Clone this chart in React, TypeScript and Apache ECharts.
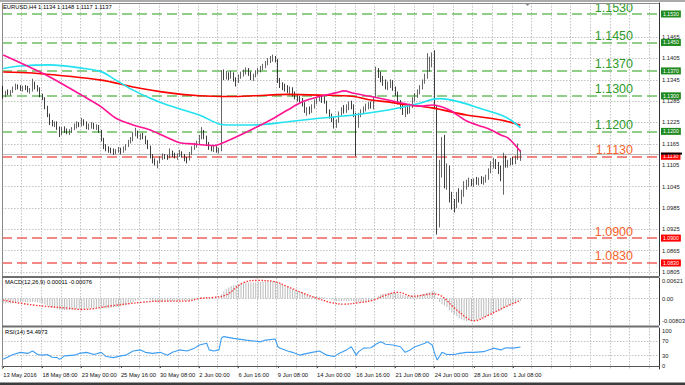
import { useEffect, useRef } from 'react';
import * as echarts from 'echarts';

const FONT = '"Liberation Sans", Arial, Helvetica, sans-serif';

// ---- time axis (H4 bars, one label every 16 bars) ----
const DATE_LABELS = ['13 May 2016', '18 May 08:00', '23 May 00:00', '25 May 16:00', '30 May 08:00', '2 Jun 00:00', '6 Jun 16:00', '9 Jun 08:00', '14 Jun 00:00', '16 Jun 16:00', '21 Jun 08:00', '24 Jun 00:00', '28 Jun 16:00', '1 Jul 08:00'];
const SLOT_COUNT = 268; // bars + empty right shift
const LABEL_EVERY = 16;
const GRID_EVERY = 8;

// ---- prices in pips above 1.0000 (1322 = 1.1322) ----
const FIRST_OPEN = 1322;
const CLOSE = [
  1300, 1310,
  1306, 1312, 1322, 1328, 1324, 1318,
  1324, 1320, 1314, 1318, 1336, 1322,
  1318, 1302, 1294, 1268, 1246, 1226,
  1220, 1224, 1210, 1196, 1206, 1202,
  1198, 1202, 1208, 1216, 1222, 1218,
  1228, 1222, 1212, 1216, 1220, 1212,
  1214, 1200, 1178, 1156, 1150, 1146,
  1144, 1140, 1146, 1150, 1142, 1152,
  1160, 1170, 1178, 1192, 1196, 1186,
  1188, 1184, 1170, 1156, 1130, 1116,
  1110, 1114, 1124, 1130, 1128, 1126,
  1140, 1134, 1130, 1134, 1142, 1132,
  1122, 1120, 1138, 1152, 1162, 1168,
  1184, 1196, 1184, 1166, 1154, 1150,
  1150, 1146, 1148, 1358, 1352, 1362,
  1356, 1364, 1346, 1340, 1354, 1360,
  1368, 1374, 1362, 1350, 1356, 1366,
  1372, 1380, 1384, 1392, 1398, 1404,
  1408, 1400, 1342, 1330, 1326, 1318,
  1314, 1320, 1304, 1296, 1292, 1288,
  1276, 1258, 1262, 1256, 1270, 1284,
  1290, 1294, 1286, 1282, 1256, 1242,
  1232, 1216, 1228, 1250, 1262, 1258,
  1266, 1278, 1270, 1246, 1216, 1246,
  1256, 1264, 1270, 1276, 1270, 1296,
  1366, 1358, 1344, 1334, 1326, 1332,
  1338, 1320, 1308, 1282, 1268, 1256,
  1262, 1254, 1272, 1290, 1300, 1312,
  1324, 1340, 1354, 1380, 1394, 1400,
  1268, 940, 1080, 1168, 1050, 1100,
  1010, 996, 988, 1024, 1010, 1028,
  1044, 1056, 1060, 1052, 1062, 1058,
  1064, 1058, 1066, 1070, 1088, 1106,
  1110, 1100, 1088, 1072, 1118, 1104,
  1112, 1118, 1112, 1126, 1134, 1137,
];
const HIGH = [
  1328, 1314,
  1318, 1316, 1326, 1334, 1332, 1330,
  1328, 1330, 1328, 1322, 1348, 1340,
  1330, 1324, 1306, 1296, 1272, 1250,
  1232, 1228, 1228, 1214, 1212, 1214,
  1208, 1206, 1212, 1222, 1228, 1226,
  1238, 1234, 1228, 1222, 1226, 1224,
  1220, 1218, 1204, 1182, 1164, 1158,
  1154, 1152, 1150, 1156, 1154, 1158,
  1164, 1176, 1184, 1198, 1210, 1202,
  1194, 1196, 1188, 1176, 1160, 1136,
  1124, 1118, 1130, 1138, 1136, 1134,
  1152, 1146, 1140, 1138, 1148, 1144,
  1136, 1128, 1142, 1158, 1168, 1174,
  1190, 1212, 1204, 1188, 1170, 1160,
  1160, 1158, 1154, 1372, 1374, 1370,
  1366, 1370, 1366, 1352, 1360, 1368,
  1374, 1380, 1378, 1368, 1362, 1372,
  1378, 1384, 1390, 1398, 1406, 1412,
  1416, 1412, 1404, 1350, 1338, 1334,
  1330, 1326, 1324, 1312, 1304, 1300,
  1294, 1282, 1268, 1270, 1276, 1290,
  1296, 1302, 1300, 1298, 1286, 1262,
  1250, 1240, 1234, 1256, 1268, 1274,
  1276, 1284, 1286, 1276, 1252, 1252,
  1262, 1270, 1278, 1282, 1284, 1298,
  1382, 1378, 1368, 1356, 1346, 1340,
  1346, 1344, 1326, 1312, 1288, 1278,
  1270, 1276, 1278, 1296, 1308, 1318,
  1330, 1346, 1362, 1420, 1410, 1422,
  1428, 1274, 1120, 1184, 1190, 1110,
  1104, 1030, 1010, 1030, 1040, 1036,
  1060, 1064, 1070, 1066, 1068, 1072,
  1070, 1074, 1072, 1078, 1096, 1116,
  1126, 1122, 1114, 1104, 1140, 1132,
  1120, 1126, 1128, 1132, 1166, 1148,
];
const LOW = [
  1292, 1296,
  1302, 1300, 1308, 1316, 1318, 1314,
  1312, 1316, 1310, 1306, 1312, 1318,
  1312, 1296, 1288, 1262, 1240, 1218,
  1214, 1212, 1204, 1184, 1190, 1196,
  1192, 1190, 1196, 1204, 1208, 1212,
  1214, 1216, 1206, 1204, 1208, 1206,
  1204, 1196, 1172, 1150, 1144, 1140,
  1138, 1134, 1136, 1140, 1136, 1140,
  1146, 1156, 1166, 1172, 1186, 1180,
  1176, 1178, 1164, 1150, 1124, 1110,
  1104, 1096, 1110, 1120, 1122, 1120,
  1124, 1128, 1124, 1120, 1128, 1126,
  1116, 1110, 1118, 1134, 1148, 1154,
  1162, 1178, 1178, 1160, 1148, 1144,
  1142, 1140, 1138, 1144, 1344, 1346,
  1344, 1348, 1340, 1326, 1336, 1348,
  1354, 1360, 1356, 1344, 1342, 1352,
  1360, 1366, 1372, 1378, 1386, 1392,
  1396, 1394, 1336, 1322, 1316, 1312,
  1308, 1302, 1298, 1290, 1284, 1282,
  1270, 1252, 1244, 1248, 1252, 1264,
  1276, 1284, 1280, 1278, 1250, 1236,
  1226, 1208, 1210, 1224, 1244, 1250,
  1252, 1260, 1262, 1240, 1130, 1210,
  1240, 1250, 1256, 1262, 1264, 1262,
  1294, 1350, 1338, 1328, 1318, 1316,
  1322, 1314, 1300, 1276, 1262, 1246,
  1240, 1248, 1250, 1266, 1284, 1294,
  1304, 1318, 1334, 1348, 1368, 1380,
  1262, 910, 930, 1070, 1040, 1036,
  1000, 980, 972, 984, 1000, 996,
  1016, 1036, 1044, 1046, 1044, 1050,
  1048, 1052, 1050, 1056, 1064, 1082,
  1096, 1094, 1080, 1060, 1022, 1098,
  1098, 1104, 1106, 1108, 1120, 1117,
];

// ---- moving averages: [bar index, pips] ----
const MA_RED = [[0, 1367], [12, 1364], [40, 1344], [53, 1325], [67, 1309], [80, 1300], [93, 1298], [102, 1300], [116, 1304], [129, 1302], [143, 1298], [150, 1288], [157, 1283], [163, 1276], [175, 1266], [189, 1246], [203, 1232], [211, 1217]];
const MA_CYAN = [[0, 1377], [7, 1384], [19, 1387], [33, 1377], [40, 1368], [46, 1344], [53, 1316], [60, 1293], [67, 1274], [80, 1246], [88, 1221], [93, 1218], [102, 1218], [116, 1227], [129, 1237], [143, 1246], [157, 1260], [170, 1279], [175, 1290], [178, 1292], [186, 1283], [194, 1266], [203, 1246], [207, 1232], [211, 1210]];
const MA_PINK = [[0, 1415], [12, 1377], [19, 1353], [33, 1298], [40, 1269], [46, 1237], [53, 1218], [60, 1204], [72, 1168], [77, 1165], [86, 1160], [89, 1166], [93, 1178], [101, 1204], [109, 1232], [116, 1260], [122, 1283], [129, 1298], [136, 1309], [139, 1314], [143, 1307], [150, 1298], [157, 1288], [163, 1279], [170, 1271], [175, 1274], [182, 1260], [189, 1229], [196, 1212], [199, 1204], [203, 1190], [206, 1181], [210, 1152], [211, 1143]];

// ---- MACD (units of 0.00001) ----
const MACD_HIST = [
  -180, -175,
  -170, -165, -160, -150, -140, -135,
  -130, -128, -130, -132, -118, -122,
  -130, -150, -170, -210, -250, -290,
  -320, -340, -365, -390, -400, -405,
  -410, -408, -400, -392, -382, -378,
  -380, -372, -362, -352, -340, -330,
  -320, -318, -330, -345, -350, -345,
  -330, -320, -305, -290, -275, -255,
  -230, -195, -160, -120, -80, -50,
  -30, -15, -10, -20, -50, -90,
  -120, -130, -125, -118, -110, -104,
  -95, -92, -90, -86, -80, -78,
  -80, -84, -70, -50, -25, 0,
  20, 45, 55, 50, 38, 25,
  15, 5, 0, 150, 250, 330,
  390, 440, 470, 480, 500, 520,
  540, 555, 565, 565, 570, 580,
  590, 598, 605, 610, 615, 621,
  620, 612, 570, 525, 485, 445,
  405, 370, 335, 300, 268, 240,
  205, 165, 130, 100, 82, 72,
  65, 60, 52, 42, 20, -10,
  -40, -75, -95, -100, -98, -100,
  -98, -92, -92, -105, -140, -135,
  -128, -118, -105, -90, -80, -65,
  20, 90, 140, 165, 175, 185,
  195, 200, 195, 175, 150, 120,
  100, 85, 80, 85, 95, 108,
  125, 145, 170, 200, 230, 255,
  240, 40, -120, -200, -260, -300,
  -420, -500, -570, -630, -690, -740,
  -780, -803, -800, -790, -775, -760,
  -735, -705, -675, -640, -600, -560,
  -520, -485, -455, -430, -360, -300,
  -255, -220, -185, -150, -115, -80,
];
const MACD_SIGNAL = [[0, -60], [12, -230], [26, -340], [32, -390], [44, -260], [57, -130], [64, -95], [75, -90], [80, 0], [86, 40], [91, 130], [98, 560], [104, 640], [110, 610], [116, 420], [122, 200], [128, 10], [134, -150], [139, -200], [145, -150], [151, -60], [156, 120], [161, 220], [167, 80], [175, 160], [178, 120], [184, -330], [189, -680], [192, -790], [198, -590], [205, -290], [211, -76]];

// ---- RSI(14) ----
const RSI = [[0, 19], [4, 33], [7, 39], [10, 36], [12, 43], [14, 33], [16, 31], [18, 33], [20, 25], [22, 24], [23, 19], [25, 29], [29, 31], [31, 36], [34, 39], [37, 33], [40, 39], [42, 27], [45, 24], [48, 29], [50, 31], [53, 43], [56, 46], [58, 39], [61, 36], [64, 39], [67, 31], [69, 39], [72, 46], [75, 43], [78, 51], [80, 60], [83, 65], [84, 46], [86, 43], [88, 46], [89, 80], [90, 84], [94, 79], [99, 74], [105, 69], [107, 74], [111, 77], [112, 55], [113, 51], [116, 43], [118, 39], [121, 31], [124, 36], [126, 39], [129, 43], [132, 31], [135, 27], [137, 36], [140, 46], [142, 55], [144, 31], [145, 41], [147, 51], [150, 52], [152, 62], [154, 69], [156, 62], [159, 60], [162, 55], [164, 39], [166, 46], [168, 55], [170, 60], [172, 65], [173, 69], [175, 60], [176, 36], [177, 17], [179, 39], [181, 33], [184, 33], [186, 36], [189, 39], [192, 39], [196, 41], [200, 51], [203, 46], [205, 52], [208, 51], [211, 54.5]];

// ---- texts / levels ----
const TITLE = 'EURUSD,H4 1.1134 1.1148 1.1117 1.1137';
const MACD_TITLE = 'MACD(12,26,9) 0.00011 -0.00076';
const RSI_TITLE = 'RSI(14) 54.4973';
const PRICE_TICKS = ['1.1465', '1.1405', '1.1345', '1.1285', '1.1225', '1.1165', '1.1105', '1.1045', '1.0985', '1.0925', '1.0865', '1.0805'];
const GREEN_LEVELS = ['1.1530', '1.1450', '1.1370', '1.1300', '1.1200'];
const RED_LEVELS = ['1.1130', '1.0900', '1.0830'];
const BID = '1.1137';
const MACD_MARKS = ['0.00621', '-0.00803'];
const MACD_ZERO = '0.00';
const RSI_LEVELS = ['70', '30'];
const RSI_MARKS = ['100', '0'];

const toPrice = (v: number) => Math.round((1 + v / 10000) * 100000) / 100000;

export default function App() {
  const ref = useRef<HTMLDivElement>(null);

  useEffect(() => {
    const el = ref.current;
    if (!el) return;
    const chart = echarts.init(el, null, { renderer: 'svg' });

    const cats = Array.from({ length: SLOT_COUNT }, (_, i) => String(i));
    const isLabel = (i: number) => i % LABEL_EVERY === 0 && i / LABEL_EVERY < DATE_LABELS.length;
    const gridDot = { color: '#c3c3c3', width: 1, type: [1.5, 1.5] as any };
    const small = { fontSize: 5.8, fontFamily: FONT, color: '#1a1a1a' };

    const candles = CLOSE.map((c, i) => {
      const o = i === 0 ? FIRST_OPEN : CLOSE[i - 1];
      return [toPrice(o), toPrice(c), toPrice(LOW[i]), toPrice(HIGH[i])];
    });

    const xAxis = [0, 1, 2].map((g) => ({
      type: 'category',
      gridIndex: g,
      data: cats,
      boundaryGap: true,
      axisLine: { show: g === 2, lineStyle: { color: '#555', width: 1 } },
      axisTick: g === 2
        ? { show: true, interval: (i: number) => isLabel(i), length: 2, alignWithLabel: true, lineStyle: { color: '#555' } }
        : { show: false },
      axisLabel: g === 2
        ? { show: true, interval: (i: number) => isLabel(i), formatter: (_v: string, i: number) => DATE_LABELS[i / LABEL_EVERY] ?? '', align: 'left', margin: 3, ...small, color: '#111' }
        : { show: false },
      splitLine: { show: true, interval: (i: number) => i % GRID_EVERY === 0, lineStyle: gridDot },
    }));

    const yAxisBase = (g: number, min: number, max: number) => ({
      type: 'value', gridIndex: g, min, max, position: 'right', scale: true,
      axisLine: { show: true, lineStyle: { color: '#333', width: 1 } },
      axisTick: { show: false }, axisLabel: { show: false }, splitLine: { show: false },
    });

    const endLabel = (t: string) => ({ show: true, position: 'end', formatter: t, distance: 3, ...small });
    const hidden = { color: 'rgba(0,0,0,0)', width: 0.5, type: 'solid' };
    const host = (xi: number, items: any[], z = 5) => ({
      type: 'line', xAxisIndex: xi, yAxisIndex: xi, data: [], silent: true, clip: false,
      markLine: { silent: true, symbol: ['none', 'none'], animation: false, precision: 6, z, data: items },
    });

    const levelItem = (t: string, line: string, text: string) => ({
      yAxis: +t,
      lineStyle: { color: line, width: 1.5, type: [10, 5] },
      label: { show: true, position: 'insideEndTop', formatter: t, distance: 1, padding: [0, 25, 0, 0], color: text, fontSize: 12.5, lineHeight: 11, fontFamily: FONT },
    });
    const tagItem = (t: string, bg: string) => ({
      yAxis: +t, lineStyle: hidden,
      label: { show: true, position: 'end', formatter: t, distance: 2, color: '#fff', backgroundColor: bg, padding: [0.5, 2, 0.5, 2], fontSize: 5.2, lineHeight: 6, fontFamily: FONT },
    });

    const maLine = (pts: number[][], color: string) => ({
      type: 'line', xAxisIndex: 0, yAxisIndex: 0, zlevel: 1, z: 3,
      data: pts.map(([i, v]) => [i, toPrice(v)]),
      showSymbol: false, smooth: 0.3, silent: true,
      lineStyle: { color, width: 1.6 },
    });

    const option: any = {
      animation: false,
      backgroundColor: '#ffffff',
      grid: [
        { left: 2, top: 3, width: 657, height: 273 },
        { left: 2, top: 278, width: 657, height: 47 },
        { left: 2, top: 328, width: 657, height: 41 },
      ],
      xAxis,
      yAxis: [
        yAxisBase(0, 1.079342, 1.156093),
        yAxisBase(1, -0.009404, 0.007275),
        yAxisBase(2, -8.57, 108.57),
      ],
      series: [
        host(0, PRICE_TICKS.map((t) => ({ yAxis: +t, lineStyle: gridDot, label: endLabel(t) }))),
        host(0, [
          { yAxis: +BID, lineStyle: { color: '#bdbdbd', width: 1, type: 'solid' }, label: { show: false } },
          ...GREEN_LEVELS.map((t) => levelItem(t, '#6cbf64', '#2f9a2a')),
          ...RED_LEVELS.map((t) => levelItem(t, '#f0625d', '#f7642c')),
        ]),
        {
          type: 'candlestick', xAxisIndex: 0, yAxisIndex: 0, zlevel: 1, z: 2, silent: true,
          data: candles, barWidth: 1.3,
          itemStyle: { color: '#8a8a8a', color0: '#0e0e0e', borderColor: '#404040', borderColor0: '#0e0e0e', borderWidth: 0.8 },
        },
        maLine(MA_RED, '#ff0000'),
        maLine(MA_CYAN, '#22e2f0'),
        maLine(MA_PINK, '#ff1493'),
        host(0, [
          ...GREEN_LEVELS.map((t) => tagItem(t, '#1f8a1f')),
          ...RED_LEVELS.map((t) => tagItem(t, '#ff0000')),
        ], 8),
        // MACD pane
        host(1, [
          { yAxis: 0, lineStyle: gridDot, label: endLabel(MACD_ZERO) },
          ...MACD_MARKS.map((t) => ({ yAxis: +t, lineStyle: hidden, label: endLabel(t) })),
        ]),
        {
          type: 'bar', xAxisIndex: 1, yAxisIndex: 1, zlevel: 1, silent: true,
          data: MACD_HIST.map((v) => v / 100000), barWidth: 1,
          itemStyle: { color: '#bcbcbc' },
        },
        {
          type: 'line', xAxisIndex: 1, yAxisIndex: 1, zlevel: 1, z: 3, silent: true,
          data: MACD_SIGNAL.map(([i, v]) => [i, v / 100000]),
          showSymbol: false, smooth: 0.4,
          lineStyle: { color: '#ff3030', width: 1.3, type: [1.5, 1.5] },
        },
        // RSI pane
        host(2, [
          ...RSI_LEVELS.map((t) => ({ yAxis: +t, lineStyle: gridDot, label: endLabel(t) })),
          ...RSI_MARKS.map((t) => ({ yAxis: +t, lineStyle: hidden, label: endLabel(t) })),
        ]),
        {
          type: 'line', xAxisIndex: 2, yAxisIndex: 2, zlevel: 1, silent: true,
          data: RSI, showSymbol: false,
          lineStyle: { color: '#3d9df2', width: 1.1 },
        },
      ],
      graphic: [
        { type: 'rect', z: 100, silent: true, shape: { x: 0, y: 0, width: 685, height: 2 }, style: { fill: '#ababab' } },
        { type: 'line', z: 100, silent: true, shape: { x1: 2, y1: 3.5, x2: 659, y2: 3.5 }, style: { stroke: '#8a8a8a', lineWidth: 1 } },
        { type: 'line', z: 100, silent: true, shape: { x1: 2.5, y1: 3, x2: 2.5, y2: 369 }, style: { stroke: '#8a8a8a', lineWidth: 1 } },
        { type: 'rect', z: 100, silent: true, shape: { x: 2, y: 276, width: 657, height: 2 }, style: { fill: '#6e6e6e' } },
        { type: 'rect', z: 100, silent: true, shape: { x: 2, y: 325.5, width: 657, height: 2 }, style: { fill: '#6e6e6e' } },
        { type: 'rect', z: 100, silent: true, shape: { x: 0, y: 382.5, width: 685, height: 2.5 }, style: { fill: '#3c3c3c' } },
        { type: 'rect', z: 100, silent: true, shape: { x: 661, y: 152.6, width: 21, height: 2 }, style: { fill: '#000' } },
        { type: 'polygon', z: 100, silent: true, shape: { points: [[524.5, 3], [530.5, 3], [527.5, 6]] }, style: { fill: '#8c8c8c' } },
        { type: 'text', z: 100, silent: true, x: 3, y: 7, style: { text: TITLE, fontSize: 5.8, fontFamily: FONT, fill: '#000', verticalAlign: 'middle', align: 'left' } },
        { type: 'text', z: 100, silent: true, x: 5, y: 282, style: { text: MACD_TITLE, fontSize: 5.8, fontFamily: FONT, fill: '#000', verticalAlign: 'middle', align: 'left' } },
        { type: 'text', z: 100, silent: true, x: 5, y: 332, style: { text: RSI_TITLE, fontSize: 5.8, fontFamily: FONT, fill: '#000', verticalAlign: 'middle', align: 'left' } },
      ],
    };

    chart.setOption(option);
    return () => chart.dispose();
  }, []);

  return <div ref={ref} style={{ position: 'absolute', left: 0, top: 0, width: 685, height: 385 }} />;
}
